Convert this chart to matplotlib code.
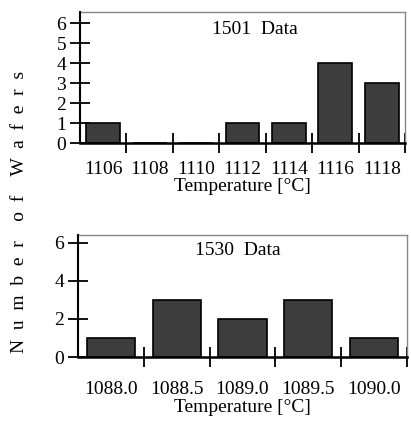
import matplotlib
matplotlib.use("Agg")
import matplotlib.pyplot as plt

plt.rcParams['font.family'] = ['Liberation Serif', 'DejaVu Serif']

labels_1501 = ["1106", "1108", "1110", "1112", "1114", "1116", "1118"]
counts_1501 = [1, 0, 0, 1, 1, 4, 3]
labels_1530 = ["1088.0", "1088.5", "1089.0", "1089.5", "1090.0"]
counts_1530 = [1, 3, 2, 3, 1]

W, H = 411, 421
fig = plt.figure(figsize=(W / 100, H / 100), dpi=100)

bar_color = "#3d3d3d"
fs = 14


def style(ax, n, counts, labels, yticks, ymax, title, title_x, tpad, lpad):
    centers = [i + 0.5 for i in range(n)]
    ax.bar(centers, counts, width=0.73, color=bar_color, edgecolor="black",
           linewidth=1.2, zorder=3)
    ax.set_xlim(0, n)
    ax.set_ylim(0, ymax)
    ax.set_xticks(list(range(1, n + 1)))
    ax.set_xticklabels([])
    ax.set_xticks(centers, minor=True)
    ax.set_xticklabels(labels, minor=True, fontsize=fs)
    ax.tick_params(axis='x', which='major', direction='inout', length=14,
                   width=1.3, color='black')
    ax.tick_params(axis='x', which='minor', length=0, pad=tpad)
    ax.set_yticks(yticks)
    ax.set_yticklabels([str(v) for v in yticks], fontsize=fs)
    ax.tick_params(axis='y', direction='inout', length=14, width=1.3, pad=3)
    for s in ("top", "right"):
        ax.spines[s].set_color("#888888")
        ax.spines[s].set_linewidth(1.0)
    ax.spines["left"].set_linewidth(1.5)
    ax.spines["bottom"].set_linewidth(1.8)
    ax.spines["left"].set_zorder(4)
    ax.spines["bottom"].set_zorder(4)
    ax.set_xlabel("Temperature [°C]", fontsize=fs, labelpad=lpad)
    ax.text(title_x, 0.87, title, transform=ax.transAxes, fontsize=fs,
            ha="center", va="center")


ax1 = fig.add_axes([80 / W, (H - 143) / H, 325 / W, 131 / H])
style(ax1, 7, counts_1501, labels_1501, list(range(0, 7)), 6.55,
      "1501  Data", (255 - 80) / 325, 13, 0)

ax2 = fig.add_axes([78 / W, (H - 357) / H, 329 / W, 122 / H])
style(ax2, 5, counts_1530, labels_1530, [0, 2, 4, 6], 6.4,
      "1530  Data", (238 - 78) / 329, 17, 1)

fig.text(20 / W, 1 - 212 / H, "N  u  m  b  e  r    o  f    W  a  f  e  r  s",
         rotation=90, fontsize=fs, ha="center", va="center")

fig.savefig("out.png", dpi=100)
